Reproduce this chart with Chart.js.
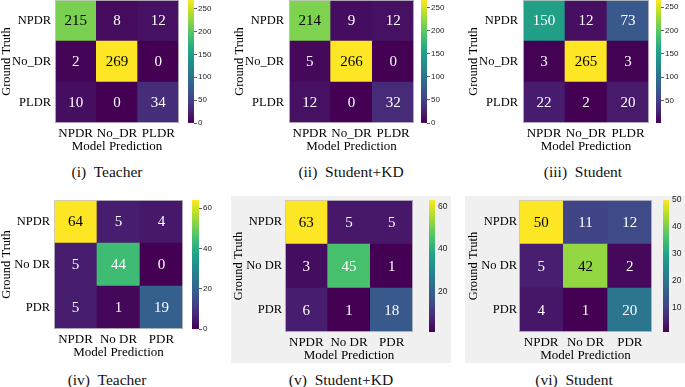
<!DOCTYPE html>
<html>
<head>
<meta charset="utf-8">
<script src="https://cdn.jsdelivr.net/npm/chart.js@4.4.1/dist/chart.umd.min.js"></script>
<style>
  html, body { margin: 0; padding: 0; background: #ffffff; }
  body { width: 685px; height: 387px; position: relative; overflow: hidden; }
  canvas { position: absolute; }
  .box { position: absolute; background: #f0f0f0; }
  .cap { position: absolute; width: 220px; text-align: center; font-family: "Liberation Serif", serif; font-size: 15.5px; line-height: 18px; color: #111; white-space: pre; }
</style>
</head>
<body>
<script>
// ---------------- DATA ----------------
const categoriesTop = ['NPDR', 'No_DR', 'PLDR'];
const categoriesBottom = ['NPDR', 'No DR', 'PDR'];

const teacherTop   = [[215, 8, 12], [2, 269, 0], [10, 0, 34]];
const studentKDTop = [[214, 9, 12], [5, 266, 0], [12, 0, 32]];
const studentTop   = [[150, 12, 73], [3, 265, 3], [22, 2, 20]];

const teacherBottom   = [[64, 5, 4], [5, 44, 0], [5, 1, 19]];
const studentKDBottom = [[63, 5, 5], [3, 45, 1], [6, 1, 18]];
const studentBottom   = [[50, 11, 12], [5, 42, 2], [4, 1, 20]];

const cbTicks1 = [0, 50, 100, 150, 200, 250];
const cbTicks2 = [0, 50, 100, 150, 200, 250];
const cbTicks3 = [50, 100, 150, 200, 250];
const cbTicks4 = [0, 20, 40, 60];
const cbTicks5 = [20, 40, 60];
const cbTicks6 = [10, 20, 30, 40, 50];

const captions = ['(i)  Teacher', '(ii)  Student+KD', '(iii)  Student', '(iv)  Teacher', '(v)  Student+KD', '(vi)  Student'];

// ---------------- LAYOUT ----------------
const panels = [
  { m: teacherTop,      cats: categoriesTop,    cbt: cbTicks1, heat: {L:55,  T:0,   W:124, H:123}, titleX: 5.5,  gap: 4, cb: {L:188, W:6}, cbLen: 3, cbPad: 1, cbFont: 8,   cap: [107, 172] },
  { m: studentKDTop,    cats: categoriesTop,    cbt: cbTicks2, heat: {L:289, T:0,   W:125, H:123}, titleX: 238.8,gap: 5, cb: {L:421, W:6}, cbLen: 3, cbPad: 1, cbFont: 8,   cap: [351, 172] },
  { m: studentTop,      cats: categoriesTop,    cbt: cbTicks3, heat: {L:523, T:0,   W:126, H:123}, titleX: 473,  gap: 5, cb: {L:656, W:5}, cbLen: 3, cbPad: 1, cbFont: 8,   cap: [583, 172] },
  { m: teacherBottom,   cats: categoriesBottom, cbt: cbTicks4, heat: {L:54,  T:200, W:129, H:129}, titleX: 5.5,  gap: 4, cb: {L:192, W:7}, cbLen: 3, cbPad: 1, cbFont: 8,   cap: [107, 380] },
  { m: studentKDBottom, cats: categoriesBottom, cbt: cbTicks5, heat: {L:285, T:200, W:128, H:132}, titleX: 238,  gap: 3, cb: {L:429, W:6}, cbLen: 0, cbPad: 3, cbFont: 8.5, cap: [341, 380] },
  { m: studentBottom,   cats: categoriesBottom, cbt: cbTicks6, heat: {L:519, T:200, W:133, H:132}, titleX: 473,  gap: 2, cb: {L:663, W:6}, cbLen: 0, cbPad: 3, cbFont: 8.5, cap: [574, 380] }
];
const grayBoxes = [ {L:231, T:196, W:220, H:167}, {L:465, T:196, W:220, H:167} ];

// ---------------- COLORMAP ----------------
const viridisStops = ['#440154','#482576','#414487','#35608d','#2a788e','#21908c','#22a884','#43bf71','#7ad151','#bbdf27','#fde725'];
function hexToRgb(h) { return [parseInt(h.slice(1,3),16), parseInt(h.slice(3,5),16), parseInt(h.slice(5,7),16)]; }
const viridisRgb = viridisStops.map(hexToRgb);
function viridis(t) {
  t = Math.max(0, Math.min(1, t));
  const p = t * (viridisRgb.length - 1);
  const i = Math.min(Math.floor(p), viridisRgb.length - 2);
  const f = p - i;
  const a = viridisRgb[i], b = viridisRgb[i + 1];
  const c = a.map((v, k) => Math.round(v + (b[k] - v) * f));
  return `rgb(${c[0]},${c[1]},${c[2]})`;
}

const SERIF = '"Liberation Serif", "Times New Roman", serif';
const SANS = '"Liberation Sans", Arial, sans-serif';

const annotatePlugin = {
  id: 'annotate',
  afterDatasetsDraw(chart) {
    const ctx = chart.ctx;
    ctx.save();
    ctx.font = `15px ${SERIF}`;
    ctx.textAlign = 'center';
    ctx.textBaseline = 'middle';
    chart.data.datasets.forEach((ds, i) => {
      const meta = chart.getDatasetMeta(i);
      meta.data.forEach((bar, j) => {
        const v = ds.cellValues[j];
        ctx.fillStyle = ds.cellNorm[j] > 0.75 ? '#000000' : '#ffffff';
        ctx.fillText(String(v), bar.x, (bar.y + bar.base) / 2 + 1);
      });
    });
    const ca = chart.chartArea;
    ctx.strokeStyle = 'rgba(200,200,200,0.8)';
    ctx.lineWidth = 1;
    ctx.strokeRect(ca.left + 0.5, ca.top + 0.5, ca.right - ca.left - 1, ca.bottom - ca.top - 1);
    ctx.restore();
  }
};

function addCanvas(left, top, w, h) {
  const c = document.createElement('canvas');
  c.width = w; c.height = h;
  c.style.left = left + 'px'; c.style.top = top + 'px';
  c.style.width = w + 'px'; c.style.height = h + 'px';
  document.body.appendChild(c);
  return c;
}

grayBoxes.forEach(b => {
  const d = document.createElement('div');
  d.className = 'box';
  d.style.left = b.L + 'px'; d.style.top = b.T + 'px';
  d.style.width = b.W + 'px'; d.style.height = b.H + 'px';
  document.body.appendChild(d);
});

const X_AXIS_H = 30;

panels.forEach((p, idx) => {
  const flat = p.m.flat();
  const vmin = Math.min(...flat), vmax = Math.max(...flat);
  const norm = v => (v - vmin) / (vmax - vmin);

  // ---- heatmap ----
  const left = Math.round(p.titleX - 6);
  const yAxisW = p.heat.L - left;
  const w = p.heat.L + p.heat.W - left;
  const h = p.heat.H + X_AXIS_H;
  const canvas = addCanvas(left, p.heat.T, w, h);

  const datasets = [];
  for (let r = p.m.length - 1; r >= 0; r--) {
    datasets.push({
      data: p.m[r].map(() => 1),
      cellValues: p.m[r],
      cellNorm: p.m[r].map(norm),
      backgroundColor: p.m[r].map(v => viridis(norm(v))),
      borderWidth: 0,
      barPercentage: 1,
      categoryPercentage: 1
    });
  }
  const cats = p.cats;
  new Chart(canvas, {
    type: 'bar',
    data: { labels: cats, datasets },
    options: {
      responsive: false,
      animation: false,
      devicePixelRatio: 1,
      layout: { padding: 0 },
      plugins: { legend: { display: false }, tooltip: { enabled: false } },
      scales: {
        x: {
          type: 'category', stacked: true, offset: true,
          grid: { display: false, drawTicks: false }, border: { display: false },
          ticks: { color: '#000', font: { family: SERIF, size: 13 }, padding: 3, maxRotation: 0, autoSkip: false },
          title: { display: true, text: 'Model Prediction', color: '#000', font: { family: SERIF, size: 13, lineHeight: 1 }, padding: 0 },
          afterFit: s => { s.height = X_AXIS_H; s.paddingLeft = 0; s.paddingRight = 0; }
        },
        y: {
          type: 'linear', stacked: true, min: 0, max: cats.length,
          grid: { display: false, drawTicks: false }, border: { display: false },
          afterBuildTicks: s => { s.ticks = cats.map((c, i) => ({ value: cats.length - 0.5 - i })); },
          ticks: {
            color: '#000', font: { family: SERIF, size: 12.5 }, padding: p.gap, autoSkip: false,
            callback: v => cats[cats.length - 1 - Math.floor(v)]
          },
          title: { display: true, text: 'Ground Truth', color: '#000', font: { family: SERIF, size: 12.5, lineHeight: 1 }, padding: 0 },
          afterFit: s => { s.width = yAxisW; s.paddingTop = 0; s.paddingBottom = 0; }
        }
      }
    },
    plugins: [annotatePlugin]
  });

  // ---- colorbar ----
  const PADV = 7;
  const cbW = p.cb.W + 26;
  const cbCanvas = addCanvas(p.cb.L, p.heat.T - PADV, cbW, p.heat.H + 2 * PADV);
  const ticksArr = p.cbt;
  new Chart(cbCanvas, {
    type: 'bar',
    data: {
      labels: [''],
      datasets: [{
        data: [[vmin, vmax]],
        borderWidth: 0, barPercentage: 1, categoryPercentage: 1,
        backgroundColor: (ctx) => {
          const ca = ctx.chart.chartArea;
          if (!ca) return viridis(0.5);
          const g = ctx.chart.ctx.createLinearGradient(0, ca.bottom, 0, ca.top);
          viridisStops.forEach((c, i) => g.addColorStop(i / (viridisStops.length - 1), c));
          return g;
        }
      }]
    },
    options: {
      responsive: false,
      animation: false,
      devicePixelRatio: 1,
      layout: { padding: { top: PADV, bottom: PADV, left: 0, right: 0 } },
      plugins: { legend: { display: false }, tooltip: { enabled: false } },
      scales: {
        x: { display: false, offset: true },
        y: {
          position: 'right', min: vmin, max: vmax,
          grid: { display: true, drawOnChartArea: false, drawTicks: p.cbLen > 0, tickLength: p.cbLen, color: '#333', lineWidth: 0.8 },
          border: { display: false },
          afterBuildTicks: s => { s.ticks = ticksArr.map(v => ({ value: v })); },
          ticks: { color: '#222', font: { family: SANS, size: p.cbFont }, padding: p.cbPad, autoSkip: false },
          afterFit: s => { s.width = cbW - p.cb.W; s.paddingTop = 0; s.paddingBottom = 0; }
        }
      }
    }
  });

  // ---- caption ----
  const cap = document.createElement('div');
  cap.className = 'cap';
  cap.textContent = captions[idx];
  cap.style.left = (p.cap[0] - 110) + 'px';
  cap.style.top = (p.cap[1] - 9) + 'px';
  document.body.appendChild(cap);
});
</script>
</body>
</html>
